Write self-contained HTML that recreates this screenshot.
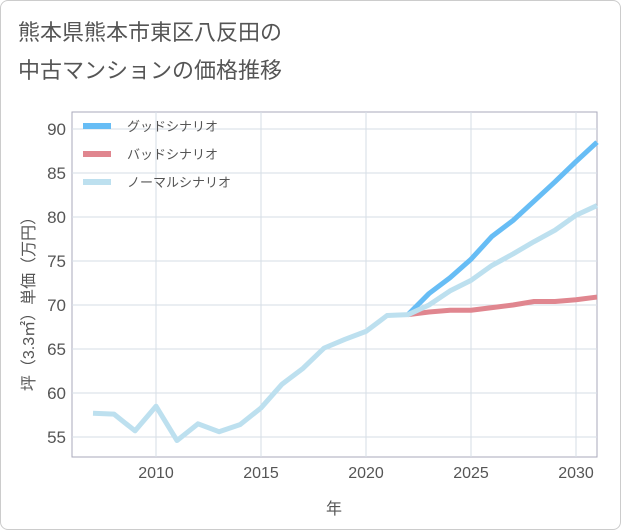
<!DOCTYPE html>
<html><head><meta charset="utf-8"><style>
body{margin:0;background:#fff;font-family:"Liberation Sans","Noto Sans CJK JP",sans-serif;}
.frame{position:absolute;left:0;top:0;width:619px;height:528px;border:1px solid #ccc;border-radius:8px;}
</style></head><body>
<div class="frame"></div>
<svg id="c" width="621" height="530" style="position:absolute;left:0;top:0">
<text x="18" y="40" font-size="22" fill="#555">熊本県熊本市東区八反田の</text>
<text x="18" y="78" font-size="22" fill="#555">中古マンションの価格推移</text>
<rect x="72" y="112" width="525" height="345" fill="none" stroke="#aab"/>
<g id="grid"></g><g id="lines"></g>
<text x="334" y="514" font-size="16" fill="#555" text-anchor="middle">年</text>
<text transform="translate(34,300) rotate(-90)" font-size="16" fill="#555" text-anchor="middle">坪（3.3㎡）単価（万円）</text>
<g>
<line x1="83" y1="126" x2="111" y2="126" stroke="#67bdf5" stroke-width="6"/><text x="127" y="131" font-size="13" fill="#555">グッドシナリオ</text>
<line x1="83" y1="154" x2="111" y2="154" stroke="#e0868f" stroke-width="6"/><text x="127" y="159" font-size="13" fill="#555">バッドシナリオ</text>
<line x1="83" y1="182" x2="111" y2="182" stroke="#bde0ef" stroke-width="6"/><text x="127" y="187" font-size="13" fill="#555">ノーマルシナリオ</text>
</g>
</svg>
<script>
const normalYears=[2007,2008,2009,2010,2011,2012,2013,2014,2015,2016,2017,2018,2019,2020,2021,2022,2023,2024,2025,2026,2027,2028,2029,2030,2031];
const normalValues=[57.7,57.6,55.7,58.5,54.6,56.5,55.6,56.4,58.3,61,62.8,65.1,66.1,67,68.8,68.9,70,71.6,72.8,74.5,75.8,77.2,78.5,80.2,81.3];
const forecastYears=[2022,2023,2024,2025,2026,2027,2028,2029,2030,2031];
const goodValues=[68.9,71.3,73.1,75.2,77.8,79.6,81.8,84,86.3,88.5];
const badValues=[68.9,69.2,69.4,69.4,69.7,70,70.4,70.4,70.6,70.9];
const xTicks=[2010,2015,2020,2025,2030];
const yTicks=[55,60,65,70,75,80,85,90];
const X=y=>156+(y-2010)*21, Y=v=>437-(v-55)*8.8;
const ns="http://www.w3.org/2000/svg";
const g=document.getElementById('grid'), L=document.getElementById('lines');
function mk(t,a,p){const e=document.createElementNS(ns,t);for(const k in a)e.setAttribute(k,a[k]);p.appendChild(e);return e;}
xTicks.forEach(t=>{
 const l=mk('line',{x1:X(t),x2:X(t),y1:112,y2:457,stroke:'#d5dde6'},g);
 
 
 const s=mk('text',{x:X(t),y:478,'font-size':16,fill:'#555','text-anchor':'middle'},g);s.textContent=t;
 
 
});
yTicks.forEach(t=>{
 const l=mk('line',{x1:72,x2:597,y1:Y(t),y2:Y(t),stroke:'#d5dde6'},g);
 
 
 const s=mk('text',{x:66,y:Y(t)+6,'font-size':17,fill:'#555','text-anchor':'end'},g);s.textContent=t;
 
 
});
function line(xs,vs,c,n){
 const p=mk('polyline',{points:xs.map((x,i)=>X(x)+','+Y(vs[i])).join(' '),fill:'none',stroke:c,'stroke-width':5,'stroke-linejoin':'round'},L);
 
 
}
line(forecastYears,badValues,'#e0868f','bad-scenario-line');
line(forecastYears,goodValues,'#67bdf5','good-scenario-line');
line(normalYears,normalValues,'#bde0ef','normal-scenario-line');
</script>
</body></html>
